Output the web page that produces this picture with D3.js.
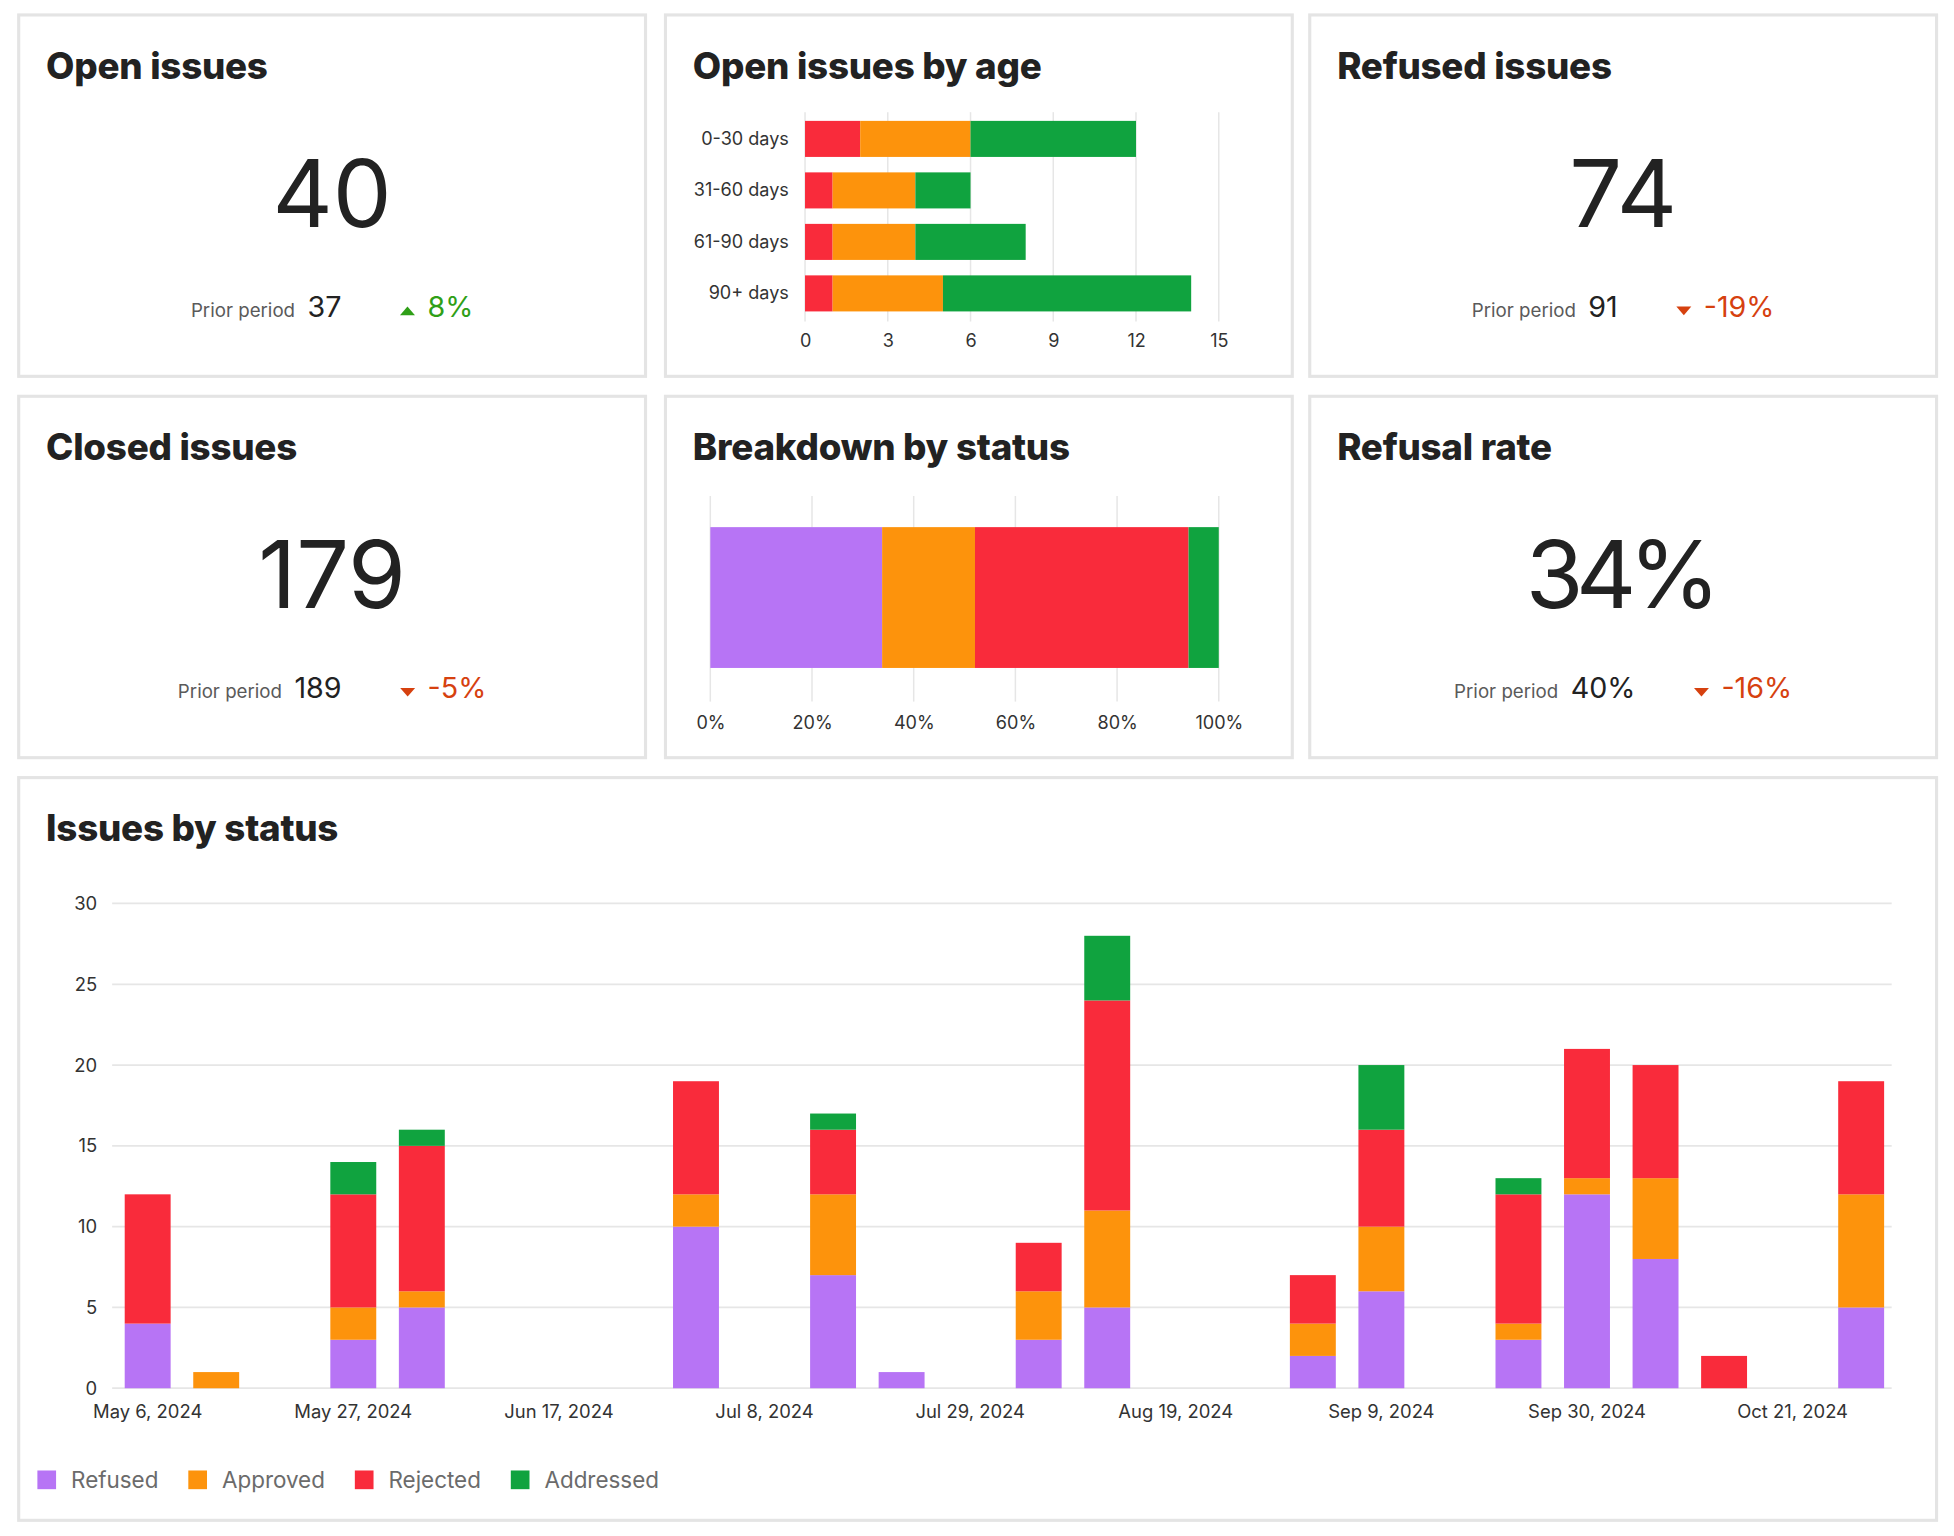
<!DOCTYPE html>
<html>
<head>
<meta charset="utf-8">
<script src="https://cdn.jsdelivr.net/npm/d3@7"></script>
<style>
  html, body { margin: 0; padding: 0; background: #fff; }
  svg { display: block; font-family: Inter, "Noto Sans", sans-serif; }
</style>
</head>
<body>
<svg id="chart"></svg>
<script>
const WIDTH = 1954;
const HEIGHT = 1536;
// layout is measured on a 1568-wide grid and scaled up by the viewBox
const VB_W = 1568;
const VB_H = VB_W * HEIGHT / WIDTH;

// ---------- data ----------

const statusNames = ['Refused', 'Approved', 'Rejected', 'Addressed'];
const statusColors = ['#b774f5', '#fd930c', '#f92b3b', '#10a33f'];

const kpiTitles = ['Open issues', 'Refused issues', 'Closed issues', 'Refusal rate'];
const kpiValues = ['40', '74', '179', '34%'];
const kpiPrior = ['37', '91', '189', '40%'];
const kpiDelta = [8, -19, -5, -16];

const ageBuckets = ['0-30 days', '31-60 days', '61-90 days', '90+ days'];
const ageRejected = [2, 1, 1, 1];
const ageApproved = [4, 3, 3, 4];
const ageAddressed = [6, 2, 4, 9];
const ageTicks = [0, 3, 6, 9, 12, 15];

const weekStart = new Date(2024, 4, 6);
const weekEnd = new Date(2024, 10, 1);
const refused =   [4, 0, 0, 3, 5, 0, 0, 0, 10, 0, 7, 1, 0, 3, 5, 0, 0, 2, 6, 0, 3, 12, 8, 0, 0, 5];
const approved =  [0, 1, 0, 2, 1, 0, 0, 0, 2, 0, 5, 0, 0, 3, 6, 0, 0, 2, 4, 0, 1, 1, 5, 0, 0, 7];
const rejected =  [8, 0, 0, 7, 9, 0, 0, 0, 7, 0, 4, 0, 0, 3, 13, 0, 0, 3, 6, 0, 8, 8, 7, 2, 0, 7];
const addressed = [0, 0, 0, 2, 1, 0, 0, 0, 0, 0, 1, 0, 0, 0, 4, 0, 0, 0, 4, 0, 1, 0, 0, 0, 0, 0];
const countTicks = [0, 5, 10, 15, 20, 25, 30];
const pctTicks = [0, 20, 40, 60, 80, 100];

const GRID = '#e6e6e6';
const TEXT = '#222';
const UP = '#2f9f17';
const DOWN = '#d6410f';

const svg = d3.select('#chart')
  .attr('width', WIDTH)
  .attr('height', HEIGHT)
  .attr('viewBox', [0, 0, VB_W, VB_H]);

// ---------- cards ----------

const card = (x, y, w, h, title) => {
  const g = svg.append('g').attr('transform', `translate(${x},${y})`);
  g.append('rect')
    .attr('width', w).attr('height', h)
    .attr('fill', '#fff')
    .attr('stroke', '#e4e4e4')
    .attr('stroke-width', 2.5);
  g.append('text')
    .attr('x', 22).attr('y', 51)
    .attr('fill', TEXT)
    .attr('font-size', 29.5)
    .attr('font-weight', 800)
    .attr('letter-spacing', -0.2)
    .text(title);
  return g;
};

const CARD_W = 503;
const CARD_H = 290;
const colX = [15, 534, 1051];
const rowY = [12, 318];

const kpiCard = (i, x, y) => {
  const g = card(x, y, CARD_W, CARD_H, kpiTitles[i]);
  const cx = CARD_W / 2;

  const big = g.append('text')
    .attr('x', cx).attr('y', 170)
    .attr('text-anchor', 'middle')
    .attr('fill', TEXT)
    .attr('font-size', 75)
    .text(kpiValues[i]);
  // the reference sets the percent sign tighter than plain Inter
  if (kpiValues[i].endsWith('%')) {
    const w = big.node().getComputedTextLength();
    big.attr('textLength', w - 12).attr('lengthAdjust', 'spacing');
  }

  const row = g.append('g');
  const label = row.append('text')
    .attr('y', 242).attr('fill', '#5a5a5a').attr('font-size', 15)
    .text('Prior period');
  let cursor = label.node().getComputedTextLength() + 10;
  const prior = row.append('text')
    .attr('x', cursor).attr('y', 242).attr('fill', TEXT).attr('font-size', 23)
    .text(kpiPrior[i]);
  cursor += prior.node().getComputedTextLength() + 47;

  const up = kpiDelta[i] >= 0;
  const col = up ? UP : DOWN;
  const tri = up
    ? `M${cursor},241 L${cursor + 12},241 L${cursor + 6},234 Z`
    : `M${cursor},234 L${cursor + 12},234 L${cursor + 6},241 Z`;
  row.append('path').attr('d', tri).attr('fill', col);
  cursor += 22;
  const delta = row.append('text')
    .attr('x', cursor).attr('y', 242).attr('fill', col).attr('font-size', 23)
    .text(`${kpiDelta[i]}%`);
  cursor += delta.node().getComputedTextLength();
  row.attr('transform', `translate(${cx - cursor / 2},0)`);
};

kpiCard(0, colX[0], rowY[0]);
kpiCard(1, colX[2], rowY[0]);
kpiCard(2, colX[0], rowY[1]);
kpiCard(3, colX[2], rowY[1]);

// ---------- open issues by age ----------

card(colX[1], rowY[0], CARD_W, CARD_H, 'Open issues by age');

const ageX = d3.scaleLinear().domain([0, 15]).range([646, 978]);
const ageY = d3.scaleBand().domain(ageBuckets).range([90.8, 256.1])
  .paddingInner(0.3).paddingOuter(0.15);

svg.append('g').selectAll('line').data(ageTicks).join('line')
  .attr('x1', d => ageX(d)).attr('x2', d => ageX(d))
  .attr('y1', 90).attr('y2', 258)
  .attr('stroke', GRID).attr('stroke-width', 1.2);

const ageRows = ageBuckets.map((b, i) => ({
  bucket: b, Rejected: ageRejected[i], Approved: ageApproved[i], Addressed: ageAddressed[i],
}));
const ageKeys = ['Rejected', 'Approved', 'Addressed'];
const ageStack = d3.stack().keys(ageKeys)(ageRows);

svg.append('g').selectAll('g').data(ageStack).join('g')
  .attr('fill', d => statusColors[statusNames.indexOf(d.key)])
  .selectAll('rect').data(d => d).join('rect')
  .attr('x', d => ageX(d[0]))
  .attr('width', d => ageX(d[1]) - ageX(d[0]))
  .attr('y', d => ageY(d.data.bucket))
  .attr('height', ageY.bandwidth());

const ageAxisX = svg.append('g')
  .attr('transform', 'translate(0,258)')
  .call(d3.axisBottom(ageX).tickValues(ageTicks).tickSize(0).tickPadding(10));
const ageAxisY = svg.append('g')
  .attr('transform', 'translate(646,0)')
  .call(d3.axisLeft(ageY).tickSize(0).tickPadding(13));
[ageAxisX, ageAxisY].forEach(a => {
  a.select('.domain').remove();
  a.selectAll('text').attr('font-size', 14.5).attr('fill', '#333')
    .attr('font-family', 'Inter, sans-serif');
});

// ---------- breakdown by status ----------

card(colX[1], rowY[1], CARD_W, CARD_H, 'Breakdown by status');

const totals = [refused, approved, rejected, addressed].map(s => d3.sum(s));
const grand = d3.sum(totals);
const pctX = d3.scaleLinear().domain([0, 100]).range([570, 978]);

svg.append('g').selectAll('line').data(pctTicks).join('line')
  .attr('x1', d => pctX(d)).attr('x2', d => pctX(d))
  .attr('y1', 398).attr('y2', 563)
  .attr('stroke', GRID).attr('stroke-width', 1.2);

const breakdown = d3.stack().keys(statusNames)([
  Object.fromEntries(statusNames.map((k, i) => [k, totals[i] / grand * 100])),
]);
svg.append('g').selectAll('rect').data(breakdown).join('rect')
  .attr('fill', (d, i) => statusColors[i])
  .attr('x', d => pctX(d[0][0]))
  .attr('width', d => pctX(d[0][1]) - pctX(d[0][0]))
  .attr('y', 423).attr('height', 113);

const pctAxis = svg.append('g')
  .attr('transform', 'translate(0,563)')
  .call(d3.axisBottom(pctX).tickValues(pctTicks).tickFormat(d => `${d}%`)
    .tickSize(0).tickPadding(12));
pctAxis.select('.domain').remove();
pctAxis.selectAll('text').attr('font-size', 14.5).attr('fill', '#333')
  .attr('font-family', 'Inter, sans-serif');

// ---------- issues by status ----------

card(15, 624, 1539, 596, 'Issues by status');

const weeks = d3.timeMonday.range(weekStart, weekEnd);
const weekRows = weeks.map((w, i) => ({
  week: w, Refused: refused[i], Approved: approved[i], Rejected: rejected[i], Addressed: addressed[i],
}));

const x = d3.scaleBand().domain(weeks).range([91, 1521])
  .paddingInner(0.33).paddingOuter(0.165);
const y = d3.scaleLinear().domain([0, 30]).range([1114, 725]);

svg.append('g').selectAll('line').data(countTicks).join('line')
  .attr('x1', 90).attr('x2', 1518)
  .attr('y1', d => y(d)).attr('y2', d => y(d))
  .attr('stroke', GRID).attr('stroke-width', 1.4);

const stacked = d3.stack().keys(statusNames)(weekRows);
svg.append('g').selectAll('g').data(stacked).join('g')
  .attr('fill', (d, i) => statusColors[i])
  .selectAll('rect').data(d => d.filter(v => v[1] > v[0])).join('rect')
  .attr('x', d => x(d.data.week))
  .attr('width', x.bandwidth())
  .attr('y', d => y(d[1]))
  .attr('height', d => y(d[0]) - y(d[1]));

const yAxis = svg.append('g')
  .attr('transform', 'translate(80,0)')
  .call(d3.axisLeft(y).tickValues(countTicks).tickSize(0).tickPadding(2));
const xAxis = svg.append('g')
  .attr('transform', 'translate(0,1114)')
  .call(d3.axisBottom(x)
    .tickValues(weeks.filter((d, i) => i % 3 === 0))
    .tickFormat(d3.timeFormat('%b %-d, %Y'))
    .tickSize(0).tickPadding(13));
[yAxis, xAxis].forEach(a => {
  a.select('.domain').remove();
  a.selectAll('text').attr('font-size', 14.8).attr('fill', '#333')
    .attr('font-family', 'Inter, sans-serif');
});

// legend
const legend = svg.append('g').attr('transform', 'translate(30,1188)');
let lx = 0;
statusNames.forEach((name, i) => {
  const item = legend.append('g').attr('transform', `translate(${lx},0)`);
  item.append('rect').attr('y', -8).attr('width', 15).attr('height', 15)
    .attr('fill', statusColors[i]);
  const t = item.append('text').attr('x', 27).attr('y', 6)
    .attr('font-size', 18).attr('fill', '#6b6b6b').text(name);
  lx += 27 + t.node().getComputedTextLength() + 24;
});
</script>
</body>
</html>
